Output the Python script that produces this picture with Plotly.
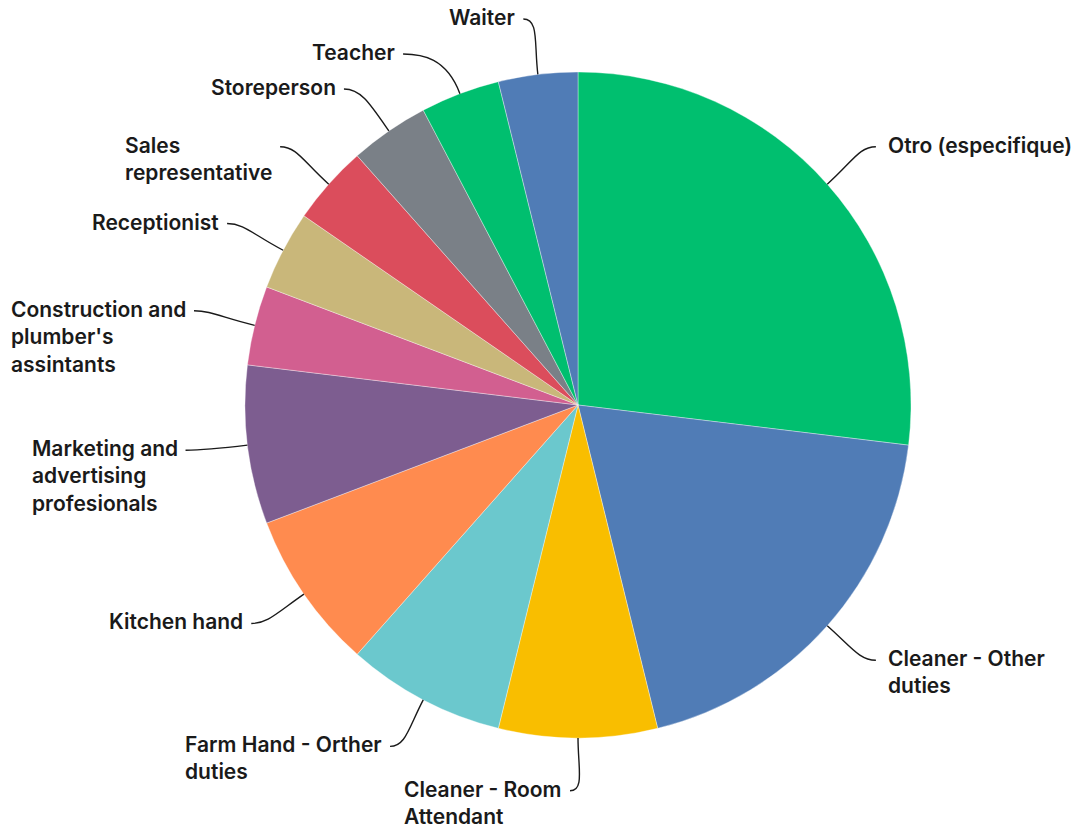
import math
import plotly.graph_objects as go

# ---- data ----
labels = [
    "Otro (especifique)",
    "Cleaner - Other<br>duties",
    "Cleaner - Room<br>Attendant",
    "Farm Hand - Orther<br>duties",
    "Kitchen hand",
    "Marketing and<br>advertising<br>profesionals",
    "Construction and<br>plumber's<br>assintants",
    "Receptionist",
    "Sales<br>representative",
    "Storeperson",
    "Teacher",
    "Waiter",
]
values = [7, 5, 2, 2, 2, 2, 1, 1, 1, 1, 1, 1]
colors = [
    "#00BF6F", "#507CB6", "#F9BE00", "#6BC8CD", "#FF8B4F", "#7D5D90",
    "#D25F90", "#C9B77A", "#DB4D5C", "#7A8087", "#00BF6F", "#507CB6",
]

# ---- layout geometry (figure pixels) ----
W, H = 1081, 829
ML, MR, MT, MB = 100, 25, 72, 91
PW, PH = W - ML - MR, H - MT - MB
R = min(PW, PH) / 2
CX, CY = ML + PW / 2, MT + PH / 2
K = 1.163         # label circle factor
LABEL_DY = -1.5   # label circle vertical shift
FS = 21           # font size
LH = 27           # line height px
PAD = 8
TAIL = 8
GAP_R, GAP_L = 10, 6
FONT = "Inter"

def px2paper(x, y):
    return (x - ML) / PW, 1 - (y - MT) / PH

total = sum(values)
items = []
cum = 0
for lab, v in zip(labels, values):
    mid = math.radians((cum + v / 2) / total * 360)
    cum += v
    s, c = math.sin(mid), math.cos(mid)
    p0 = (CX + R * s, CY - R * c)
    ay = CY + LABEL_DY - K * R * c
    group = "right" if s > -1e-9 else "left"
    direction = 1 if s > 1e-9 else -1
    items.append(dict(label=lab, s=s, c=c, p0=p0, y=ay, ax=CX + K * R * s,
                      group=group, dir=direction, n=lab.count("<br>") + 1))

# simple vertical de-overlap per side
for g in ("left", "right"):
    grp = sorted([it for it in items if it["group"] == g], key=lambda d: d["y"])
    prev = None
    for it in grp:
        if prev is not None:
            need = prev["y"] + prev["n"] * LH + PAD
            if it["y"] < need:
                it["y"] = need
                dy = it["y"] - CY - LABEL_DY
                rr = K * R
                dx = math.sqrt(max(rr * rr - dy * dy, 0))
                it["ax"] = CX + (dx if it["dir"] > 0 else -dx)
        prev = it

shapes = []
annotations = []
for it in items:
    x0, y0 = it["p0"]
    ex, ey = it["ax"] + it["dir"] * TAIL, it["y"]
    ux, uy = it["s"], -it["c"]
    dist = math.hypot(ex - x0, ey - y0)
    a = 0.55 * dist
    c1 = (x0 + ux * a, y0 + uy * a)
    c2 = (ex - it["dir"] * max(a * 0.5, TAIL), ey)
    pts = [px2paper(*p) for p in [(x0, y0), c1, c2, (ex, ey)]]
    path = "M {:.5f},{:.5f} C {:.5f},{:.5f} {:.5f},{:.5f} {:.5f},{:.5f}".format(
        *[v for p in pts for v in p])
    shapes.append(dict(type="path", xref="paper", yref="paper", path=path,
                       line=dict(color="#1a1a1a", width=1.4)))
    gap = GAP_R if it["dir"] > 0 else GAP_L
    tx, ty = px2paper(ex + it["dir"] * gap, ey - 16)
    annotations.append(dict(
        x=tx, y=ty, xref="paper", yref="paper", text=it["label"], showarrow=False,
        xanchor="left" if it["dir"] > 0 else "right", yanchor="top", align="left",
        font=dict(family=FONT, size=FS, color="#1a1a1a", weight=600)))

fig = go.Figure(go.Pie(
    labels=[l.replace("<br>", " ") for l in labels],
    values=values,
    sort=False,
    direction="clockwise",
    rotation=0,
    marker=dict(colors=colors, line=dict(color="rgba(255,255,255,0.6)", width=0.6)),
    textinfo="none",
    textposition="none",
    hoverinfo="label+value+percent",
))
fig.update_layout(
    width=W, height=H,
    margin=dict(l=ML, r=MR, t=MT, b=MB),
    showlegend=False,
    paper_bgcolor="white",
    plot_bgcolor="white",
    shapes=shapes,
    annotations=annotations,
    font=dict(family=FONT),
)
fig.write_html("out.html",
               config={"displayModeBar": False},
               post_script="document.body.style.margin='0';document.body.style.overflow='hidden';")
